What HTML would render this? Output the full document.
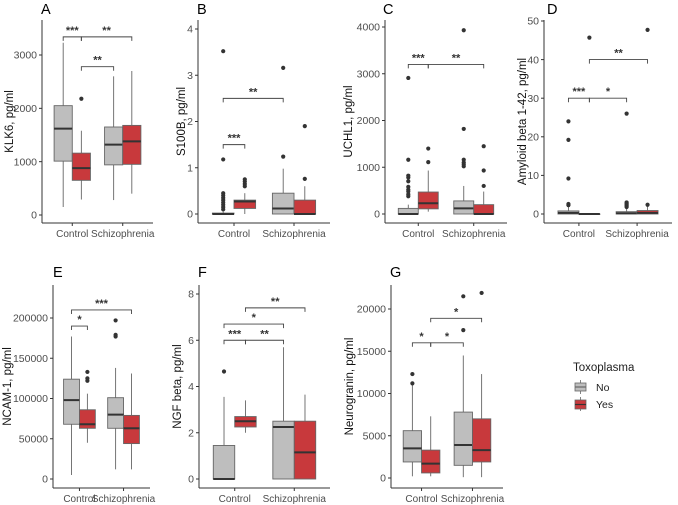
<!DOCTYPE html>
<html><head><meta charset="utf-8">
<style>
html,body{margin:0;padding:0;background:#fff;}
svg{display:block;font-family:"Liberation Sans",Arial,sans-serif;}
</style></head>
<body>
<svg id="fig" width="678" height="505" viewBox="0 0 678 505" xmlns="http://www.w3.org/2000/svg">
<g id="legend">
<text x="573" y="371" font-size="11.5" fill="#222">Toxoplasma</text>
<g>
<line x1="580.5" y1="380" x2="580.5" y2="394" stroke="#666" stroke-width="0.8"/>
<rect x="575" y="383" width="11" height="8" fill="#bebebe" stroke="#666" stroke-width="0.8"/>
<line x1="575" y1="387" x2="586" y2="387" stroke="#666" stroke-width="1.2"/>
<text x="596" y="391" font-size="10.5" fill="#222">No</text></g>
<g>
<line x1="580.5" y1="397" x2="580.5" y2="411" stroke="#666" stroke-width="0.8"/>
<rect x="575" y="400" width="11" height="9" fill="#c8393c" stroke="#666" stroke-width="0.8"/>
<line x1="575" y1="404.5" x2="586" y2="404.5" stroke="#333" stroke-width="1.2"/>
<text x="596" y="408" font-size="10.5" fill="#222">Yes</text></g>
</g>
</svg>
<script>
// ---- data: [lower whisker, q1, median, q3, upper whisker] per box (Control-No, Control-Yes, Schizo-No, Schizo-Yes)
const groups = ["Control", "Schizophrenia"];
const klk6Stats = [[150,1010,1620,2050,3230],[290,650,880,1160,1580],[280,940,1320,1650,2600],[400,950,1380,1680,2700]];
const klk6Outliers = [[],[2180],[],[]];
const klk6Ticks = [0,1000,2000,3000];
const klk6Brackets = [[0,1,3340,"***"],[1,3,3340,"**"],[1,2,2780,"**"]];

const s100bStats = [[0,0,0,0.02,0.05],[0,0.12,0.27,0.3,0.45],[0,0,0.12,0.45,0.98],[0,0,0,0.3,0.6]];
const s100bOutliers = [[0.1,0.15,0.2,0.25,0.3,0.35,0.4,0.45,1.18,3.52],[0.6,0.65,0.7,0.75],[1.24,3.16],[0.76,1.9]];
const s100bTicks = [0,1,2,3,4];
const s100bBrackets = [[0,1,1.5,"***"],[0,2,2.5,"**"]];

const uchl1Stats = [[0,0,0,120,200],[50,110,230,470,930],[0,0,120,280,600],[0,0,0,200,480]];
const uchl1Outliers = [[380,420,480,520,580,700,780,820,1160,2910],[1110,1400],[1020,1060,1100,1160,1820,3930],[600,930,1450]];
const uchl1Ticks = [0,1000,2000,3000,4000];
const uchl1Brackets = [[0,1,3200,"***"],[1,3,3200,"**"]];

const abetaStats = [[0,0,0.3,0.8,2],[0,0,0,0,0],[0,0,0.2,0.6,1.5],[0,0,0.3,0.9,2]];
const abetaOutliers = [[2.3,2.6,9.2,19.2,24],[45.7],[1.8,2.1,2.4,2.7,3.0,26],[2.4,47.7]];
const abetaTicks = [0,10,20,30,40,50];
const abetaBrackets = [[0,1,30,"***"],[1,2,30,"*"],[1,3,40,"**"]];

const ncamStats = [[5000,68000,98000,124000,177000],[45000,63000,68000,86000,106000],[12000,63000,80000,101000,138000],[12000,44000,63000,79000,131000]];
const ncamOutliers = [[],[122000,125000,133000],[177000,179000,197000],[]];
const ncamTicks = [0,50000,100000,150000,200000];
const ncamBrackets = [[0,1,190000,"*"],[0,3,210000,"***"]];

const ngfStats = [[0,0,0,1.45,3.55],[2.0,2.25,2.5,2.7,3.4],[0,0,2.25,2.5,5.7],[0,0,1.15,2.5,3.65]];
const ngfOutliers = [[4.65],[],[],[]];
const ngfTicks = [0,2,4,6,8];
const ngfBrackets = [[0,1,6.0,"***"],[1,2,6.0,"**"],[0,2,6.7,"*"],[1,3,7.4,"**"]];

const nrgnStats = [[200,1900,3500,5600,11000],[200,600,1700,3300,7300],[100,1500,3900,7800,14500],[100,1900,3300,7000,12300]];
const nrgnOutliers = [[11200,12300],[],[17500,21500],[21900]];
const nrgnTicks = [0,5000,10000,15000,20000];
const nrgnBrackets = [[0,1,16000,"*"],[1,2,16000,"*"],[1,3,18900,"*"]];

// ---- layout (pixel geometry only)
const panels = [
 {id:"klk6",letter:"A",title:"KLK6, pg/ml",stats:klk6Stats,out:klk6Outliers,ticks:klk6Ticks,br:klk6Brackets,
  ax:42,right:153,top:20,bottom:223,v0:0,p0:215,v1:3000,p1:55,titleX:9,lx:41,ly:14,labY:237},
 {id:"s100b",letter:"B",title:"S100B, pg/ml",stats:s100bStats,out:s100bOutliers,ticks:s100bTicks,br:s100bBrackets,
  ax:198,right:330,top:20,bottom:223,v0:0,p0:214,v1:4,p1:29,titleX:181,lx:197,ly:14,labY:237},
 {id:"uchl1",letter:"C",title:"UCHL1, pg/ml",stats:uchl1Stats,out:uchl1Outliers,ticks:uchl1Ticks,br:uchl1Brackets,
  ax:385,right:507,top:20,bottom:223,v0:0,p0:214,v1:4000,p1:27,titleX:348,lx:383,ly:14,labY:237},
 {id:"abeta",letter:"D",title:"Amyloid beta 1-42, pg/ml",stats:abetaStats,out:abetaOutliers,ticks:abetaTicks,br:abetaBrackets,
  ax:544,right:672,top:20,bottom:223,v0:0,p0:214,v1:50,p1:21,titleX:522,lx:547,ly:14,labY:237},
 {id:"ncam",letter:"E",title:"NCAM-1, pg/ml",stats:ncamStats,out:ncamOutliers,ticks:ncamTicks,br:ncamBrackets,
  ax:53,right:150,top:285,bottom:488,v0:0,p0:479,v1:200000,p1:318,titleX:7,lx:53,ly:277,labY:502},
 {id:"ngf",letter:"F",title:"NGF beta, pg/ml",stats:ngfStats,out:ngfOutliers,ticks:ngfTicks,br:ngfBrackets,
  ax:199,right:330,top:285,bottom:488,v0:0,p0:479,v1:8,p1:294,titleX:177,lx:198,ly:277,labY:502},
 {id:"nrgn",letter:"G",title:"Neurogranin, pg/ml",stats:nrgnStats,out:nrgnOutliers,ticks:nrgnTicks,br:nrgnBrackets,
  ax:391,right:503,top:285,bottom:488,v0:0,p0:478,v1:20000,p1:309,titleX:349,lx:390,ly:277,labY:502}
];
const fills = ["#bebebe","#c8393c","#bebebe","#c8393c"];
const NS = "http://www.w3.org/2000/svg";
const svg = document.getElementById("fig");
function mk(tag, attrs, parent){
  const e = document.createElementNS(NS, tag);
  for (const k in attrs) e.setAttribute(k, attrs[k]);
  parent.appendChild(e); return e;
}
panels.forEach(p => {
  const g = mk("g", {}, svg);
  
  
  const y = v => p.p0 + (v - p.v0) * (p.p1 - p.p0) / (p.v1 - p.v0);
  const unit = (p.right - p.ax) / 2.2;
  const gx = i => p.ax + (0.6 + i) * unit;
  const bw = unit * 0.36;
  const bx = j => gx(Math.floor(j / 2)) + (j % 2 === 0 ? -bw / 2 : bw / 2);
  const yAxis = mk("line", {x1:p.ax,y1:p.top,x2:p.ax,y2:p.bottom,stroke:"#333","stroke-width":1}, g);
  
  
  const xAxis = mk("line", {x1:p.ax,y1:p.bottom,x2:p.right,y2:p.bottom,stroke:"#333","stroke-width":1}, g);
  
  
  p.ticks.forEach(t => {
    mk("line", {x1:p.ax-3,y1:y(t),x2:p.ax,y2:y(t),stroke:"#333","stroke-width":1}, g);
    const tl = mk("text", {x:p.ax-5,y:y(t)+3.7,"font-size":10.5,fill:"#4d4d4d","text-anchor":"end"}, g);
    tl.textContent = t;
    
    
  });
  groups.forEach((name, i) => {
    mk("line", {x1:gx(i),y1:p.bottom,x2:gx(i),y2:p.bottom+3,stroke:"#333","stroke-width":1}, g);
    const xl = mk("text", {x:gx(i),y:p.labY,"font-size":10,fill:"#4d4d4d","text-anchor":"middle"}, g);
    xl.textContent = name;
    
    
  });
  const yt = mk("text", {x:0,y:0,"font-size":11.5,fill:"#111","text-anchor":"middle",
    transform:"translate(" + (p.titleX + 4) + "," + ((p.top + p.bottom) / 2) + ") rotate(-90)"}, g);
  yt.textContent = p.title;
  
  
  const lt = mk("text", {x:p.lx,y:p.ly,"font-size":14.5,fill:"#000"}, g);
  lt.textContent = p.letter;
  
  
  p.stats.forEach((s, j) => {
    const cx = bx(j);
    const bg = mk("g", {}, g);
    
    
    mk("line", {x1:cx,y1:y(s[0]),x2:cx,y2:y(s[4]),stroke:"#666","stroke-width":0.9}, bg);
    mk("rect", {x:cx-bw/2,y:y(s[3]),width:bw,height:Math.max(0.5, y(s[1]) - y(s[3])),fill:fills[j],stroke:"#666","stroke-width":0.9}, bg);
    mk("line", {x1:cx-bw/2,y1:y(s[2]),x2:cx+bw/2,y2:y(s[2]),stroke:"#333","stroke-width":2}, bg);
    p.out[j].forEach(o => {
      const c = mk("circle", {cx:cx,cy:y(o),r:2.1,fill:"#333"}, bg);
      
      
    });
  });
  p.br.forEach(b => {
    const x1 = bx(b[0]), x2 = bx(b[1]), yy = y(b[2]);
    const bgp = mk("g", {}, g);
    
    
    mk("path", {d:"M"+x1+","+(yy+4)+"V"+yy+"H"+x2+"V"+(yy+4),fill:"none",stroke:"#444","stroke-width":0.9}, bgp);
    const st = mk("text", {x:(x1+x2)/2,y:yy-3,"font-size":11,"font-weight":"bold",fill:"#333","text-anchor":"middle"}, bgp);
    st.textContent = b[3];
  });
});
</script>
</body></html>
